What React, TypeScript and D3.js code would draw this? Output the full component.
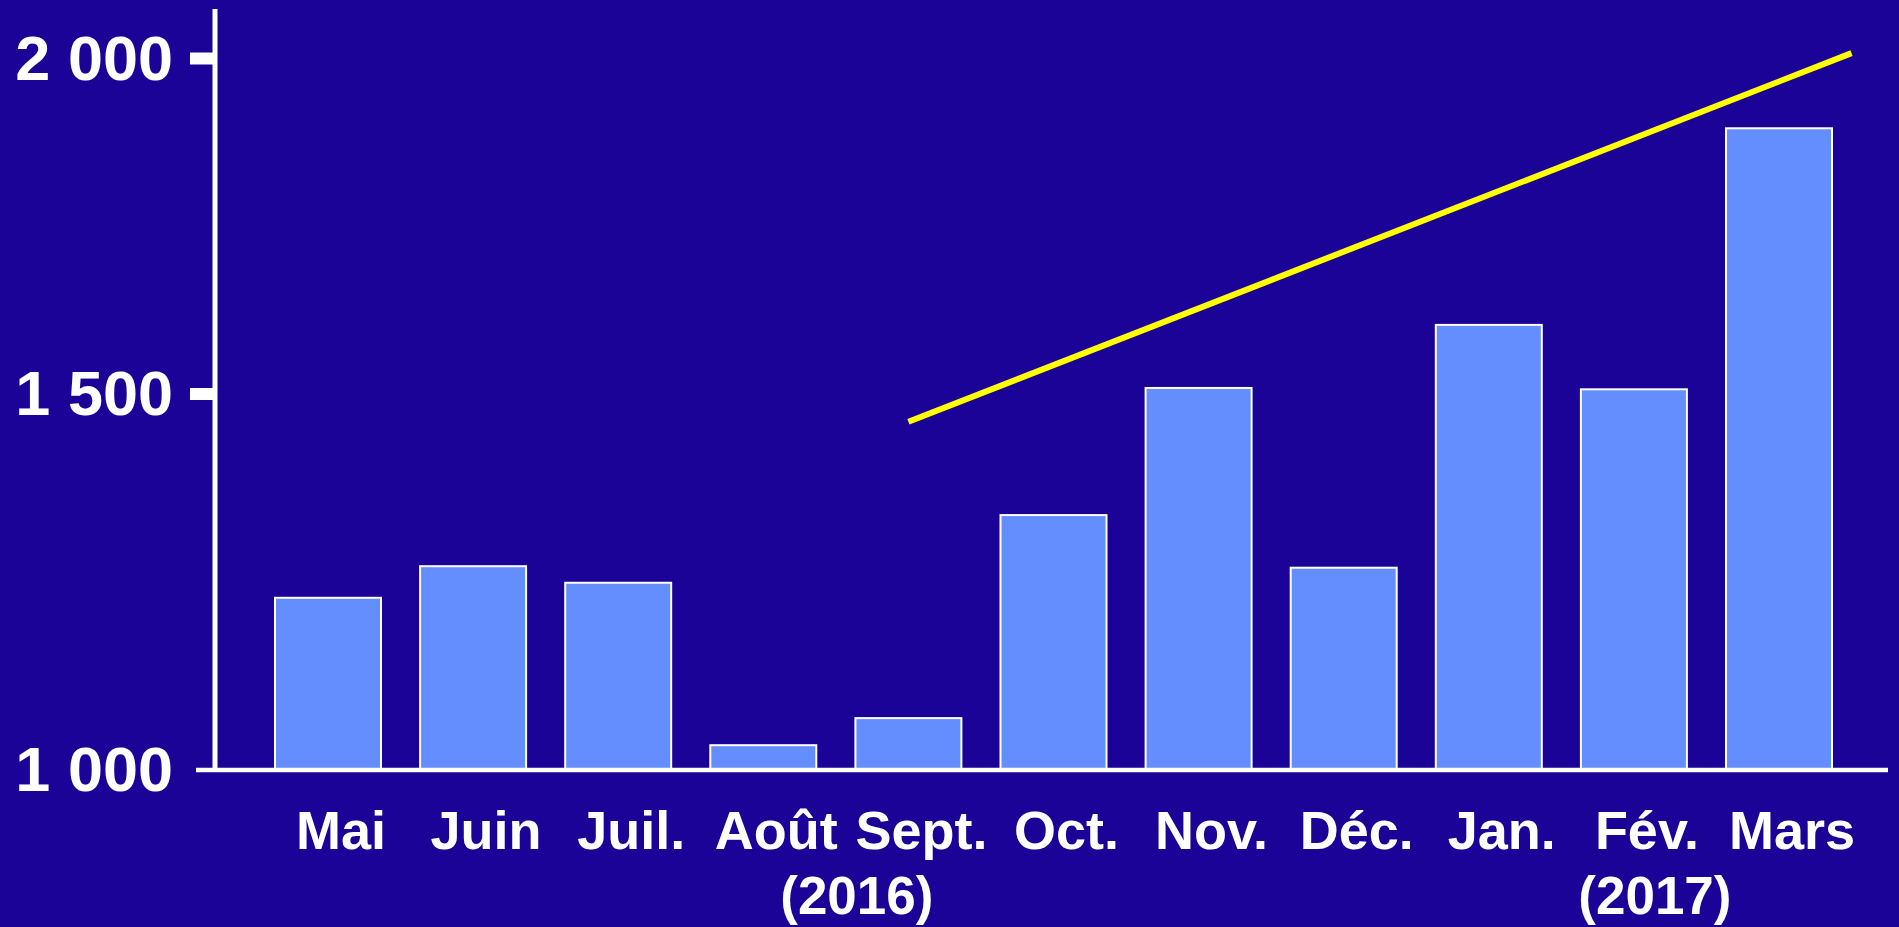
import React from "react";
import * as d3 from "d3";

// ---- data ----
const months: string[] = ["Mai", "Juin", "Juil.", "Août", "Sept.", "Oct.", "Nov.", "Déc.", "Jan.", "Fév.", "Mars"];
const values: number[] = [1229, 1271, 1249, 1033, 1069, 1339, 1509, 1269, 1603, 1507, 1896];
const yTickValues: number[] = [1000, 1500, 2000];
const yTickLabels: string[] = ["1 000", "1 500", "2 000"];
const yearLabels: { text: string; from: number; to: number }[] = [
  { text: "(2016)", from: 3, to: 4 },
  { text: "(2017)", from: 9, to: 9 },
];
// trend line: [month index, value]
const trendIndex: number[] = [4, 10.5];
const trendValue: number[] = [1463, 2008];

const W = 1899;
const H = 927;
const BG = "#1a0396";
const BAR = "#648efe";
const FONT = "'Liberation Sans', Arial, Helvetica, sans-serif";

export default function App() {
  const x = d3
    .scaleBand<string>()
    .domain(months)
    .range([275, 1832])
    .paddingInner(0.2695)
    .paddingOuter(0);

  // hand-drawn axis: the three labelled levels are not evenly spaced
  const y = d3.scaleLinear().domain([1000, 1500, 2000]).range([770, 394, 58.5]);

  const bw = x.bandwidth();
  const center = (i: number) => (x(months[i]) as number) + bw / 2;
  const xi = d3.scaleLinear().domain([0, months.length - 1]).range([center(0), center(months.length - 1)]);

  const trendPts: [number, number][] = trendIndex.map((t, i) => [xi(t), y(trendValue[i])]);
  const trendPath = d3.line()(trendPts) || "";

  const axisX = 215;
  const baseY = y(1000);
  const labelDx = 13;

  return (
    <div style={{ position: "fixed", left: 0, top: 0, width: W, height: H, background: BG }}>
      <svg width={W} height={H} style={{ display: "block" }}>
        <rect x={0} y={0} width={W} height={H} fill={BG} />

        {/* bars */}
        {months.map((m, i) => (
          <rect
            key={m}
            x={x(m)}
            y={y(values[i])}
            width={bw}
            height={baseY - y(values[i])}
            fill={BAR}
            stroke="#ffffff"
            strokeWidth={2}
          />
        ))}

        {/* axes */}
        <line x1={axisX} x2={axisX} y1={9} y2={baseY + 2} stroke="#ffffff" strokeWidth={5} />
        <line x1={196} x2={1888} y1={baseY} y2={baseY} stroke="#ffffff" strokeWidth={4.5} />
        {yTickValues
          .filter((v) => v !== 1000)
          .map((v) => (
            <line key={v} x1={190} x2={axisX} y1={y(v)} y2={y(v)} stroke="#ffffff" strokeWidth={12} />
          ))}
        {yTickValues.map((v, i) => (
          <text
            key={v}
            x={173}
            y={y(v) + 21}
            textAnchor="end"
            fill="#ffffff"
            fontFamily={FONT}
            fontWeight="bold"
            fontSize={63}
          >
            {yTickLabels[i]}
          </text>
        ))}

        {/* month labels */}
        {months.map((m, i) => (
          <text
            key={m}
            x={center(i) + labelDx}
            y={849}
            textAnchor="middle"
            fill="#ffffff"
            fontFamily={FONT}
            fontWeight="bold"
            fontSize={54}
          >
            {m}
          </text>
        ))}
        {yearLabels.map((yl) => (
          <text
            key={yl.text}
            x={(center(yl.from) + center(yl.to)) / 2 + labelDx + 8}
            y={914}
            textAnchor="middle"
            fill="#ffffff"
            fontFamily={FONT}
            fontWeight="bold"
            fontSize={53}
          >
            {yl.text}
          </text>
        ))}

        {/* trend line */}
        <path d={trendPath} fill="none" stroke="#ffff00" strokeWidth={6} />
      </svg>
    </div>
  );
}
